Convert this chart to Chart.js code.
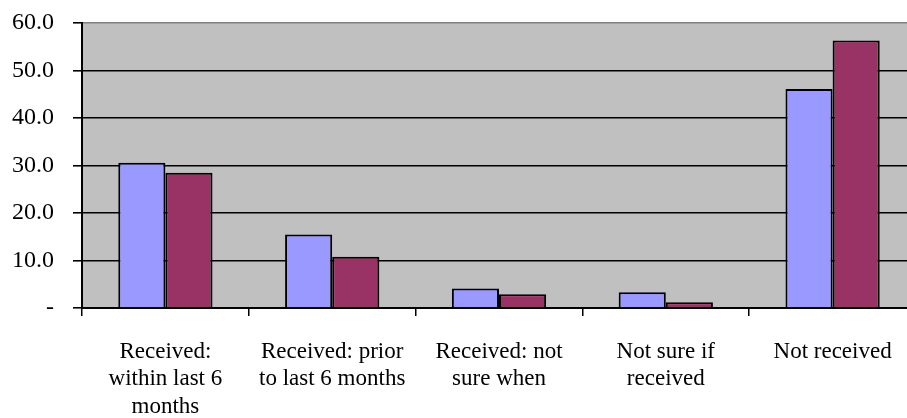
<!DOCTYPE html>
<html>
<head>
<meta charset="utf-8">
<script src="https://cdn.jsdelivr.net/npm/chart.js@4/dist/chart.umd.min.js"></script>
<style>
    html, body { margin: 0; padding: 0; background: #fff; overflow: hidden; }
    #wrap { width: 920px; height: 418px; position: relative; }
</style>
</head>
<body>
<div id="wrap"><canvas id="chart"></canvas></div>
<script>
// categories, wrapped the way the original labels are
const categories = [
    ['Received:', 'within last 6', 'months'],
    ['Received: prior', 'to last 6 months'],
    ['Received: not', 'sure when'],
    ['Not sure if', 'received'],
    ['Not received']
];

// two series (no legend in the original)
const seriesA = [30.6, 15.5, 4.1, 3.3, 46.1];
const seriesB = [28.5, 10.8, 2.9, 1.2, 56.3];

const yTicks = [0, 10, 20, 30, 40, 50, 60];

const SERIF = "'Liberation Serif', 'Times New Roman', serif";

// gray plot area like the spreadsheet chart
const plotBackground = {
    id: 'plotBackground',
    beforeDraw(chart) {
        const { ctx, chartArea } = chart;
        ctx.save();
        ctx.fillStyle = '#C0C0C0';
        ctx.fillRect(chartArea.left, chartArea.top, chartArea.right - chartArea.left, chartArea.bottom - chartArea.top);
        ctx.restore();
    }
};

new Chart(document.getElementById('chart'), {
    type: 'bar',
    data: {
        labels: categories,
        datasets: [
            {
                data: seriesA,
                backgroundColor: '#9999FF',
                borderColor: '#000000',
                borderWidth: 2
            },
            {
                data: seriesB,
                backgroundColor: '#993366',
                borderColor: '#000000',
                borderWidth: 2
            }
        ]
    },
    options: {
        responsive: true,
        maintainAspectRatio: false,
        animation: false,
        layout: { padding: { top: 23, right: 4, left: 0, bottom: 0 } },
        datasets: {
            bar: { categoryPercentage: 0.565, barPercentage: 1.0 }
        },
        plugins: {
            legend: { display: false },
            tooltip: { enabled: false }
        },
        scales: {
            x: {
                grid: {
                    drawOnChartArea: false,
                    drawTicks: true,
                    tickLength: 8,
                    lineWidth: 1.5,
                    color: '#000'
                },
                border: { color: '#000', width: 2 },
                ticks: {
                    color: '#000',
                    font: { family: SERIF, size: 23 },
                    padding: 22,
                    maxRotation: 0,
                    autoSkip: false
                },
                afterFit(scale) { scale.height = 110; }
            },
            y: {
                min: 0,
                max: 60,
                afterBuildTicks(scale) {
                    scale.ticks = yTicks.map(v => ({ value: v }));
                },
                grid: {
                    color: ctx => (ctx.tick && ctx.tick.value === 60) ? '#808080' : '#000',
                    tickColor: '#000',
                    lineWidth: 1.6,
                    tickLength: 9
                },
                border: { color: '#000', width: 2 },
                ticks: {
                    color: '#000',
                    font: { family: SERIF, size: 24 },
                    padding: 19,
                    callback: v => v === 0 ? '-' : v.toFixed(1)
                },
                afterFit(scale) {
                    scale.width = 82;
                    // don't let the label padding push the plot top down
                    scale.paddingTop = 0;
                    scale.paddingBottom = 0;
                }
            }
        }
    },
    plugins: [plotBackground]
});
</script>
</body>
</html>
